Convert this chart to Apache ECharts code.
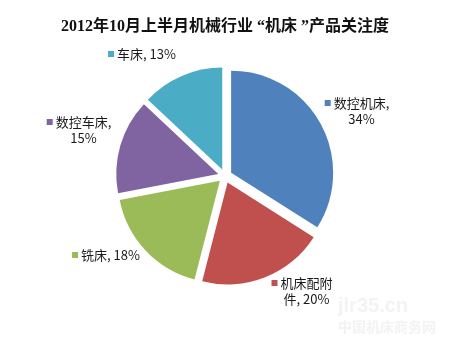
<!DOCTYPE html>
<html>
<head>
<meta charset="utf-8">
<script src="https://cdn.jsdelivr.net/npm/echarts@6/dist/echarts.min.js"></script>
<style>html,body{margin:0;padding:0;background:#fff;}#c{width:450px;height:350px;}</style>
</head>
<body>
<div id="c"></div>
<script>
const titleText = '2012年10月上半月机械行业 “机床 ”产品关注度';
const categories = ['数控机床', '机床配附件', '铣床', '数控车床', '车床'];
const values = [34, 20, 18, 15, 13];
const labelTexts = ['数控机床,\n34%', '机床配附\n件, 20%', '铣床, 18%', '数控车床,\n15%', '车床, 13%'];
const colors = ['#4F81BD', '#C0504D', '#9BBB59', '#8064A2', '#4BACC6'];
// label anchor (block centre) positions
const labelPos = [[357, 111], [302, 291], [106, 255], [79, 130], [142, 54]];

const chart = echarts.init(document.getElementById('c'), null, {renderer: 'canvas'});

const rich = {};
colors.forEach((c, i) => {
  rich['m' + i] = {width: 6, height: 6, backgroundColor: c, padding: 0};
});
rich.g = {width: 3};
rich.t = {fontSize: 13, fill: '#1a1a1a', color: '#1a1a1a', fontFamily: "'Noto Sans CJK SC', sans-serif", lineHeight: 16};
rich.p = {fontSize: 13, fill: '#1a1a1a', color: '#1a1a1a', fontFamily: "'Noto Sans CJK SC', sans-serif", lineHeight: 16, padding: [0, 0, 0, 9]};

const data = categories.map((name, i) => ({
  name: name,
  value: values[i],
  selected: true,
  itemStyle: {color: colors[i]}
}));

function labelRichText(i) {
  const lines = labelTexts[i].split('\n');
  let s = '{m' + i + '|}{g|}{t|' + lines[0] + '}';
  if (lines[1]) s += '\n{p|' + lines[1] + '}';
  return s;
}

const labelGraphics = categories.map((name, i) => ({
  type: 'text',
  x: labelPos[i][0],
  y: labelPos[i][1],
  z: 100,
  style: {
    text: labelRichText(i),
    rich: rich,
    align: 'center',
    verticalAlign: 'middle',
    fontSize: 13,
    fontFamily: "'Noto Sans CJK SC', sans-serif"
  }
}));

chart.setOption({
  animation: false,
  backgroundColor: '#fff',
  title: {
    text: titleText,
    left: 'center',
    top: 14,
    textStyle: {
      fontSize: 16,
      fontWeight: 'bold',
      color: '#111',
      fontFamily: "'Liberation Serif', 'Noto Sans CJK SC', serif"
    }
  },
  graphic: [
    {type: 'text', left: 338, top: 296, style: {text: 'jlr35.cn', fontSize: 20, fontWeight: 'bold', fill: '#f3f3f3', fontFamily: 'Arial'}},
    {type: 'text', left: 338, top: 320, style: {text: '中国机床商务网', fontSize: 14, fontWeight: 'bold', fill: '#f3f3f3', fontFamily: "'Noto Sans CJK SC'"}}
  ].concat(labelGraphics),
  series: [{
    type: 'pie',
    center: [225, 176],
    radius: 102,
    startAngle: 90,
    clockwise: true,
    selectedMode: 'multiple',
    selectedOffset: 7,
    emphasis: {disabled: true},
    select: {itemStyle: {}},
    itemStyle: {borderWidth: 0},
    label: {show: false},
    labelLine: {show: false},
    data: data
  }]
});
</script>
</body>
</html>
